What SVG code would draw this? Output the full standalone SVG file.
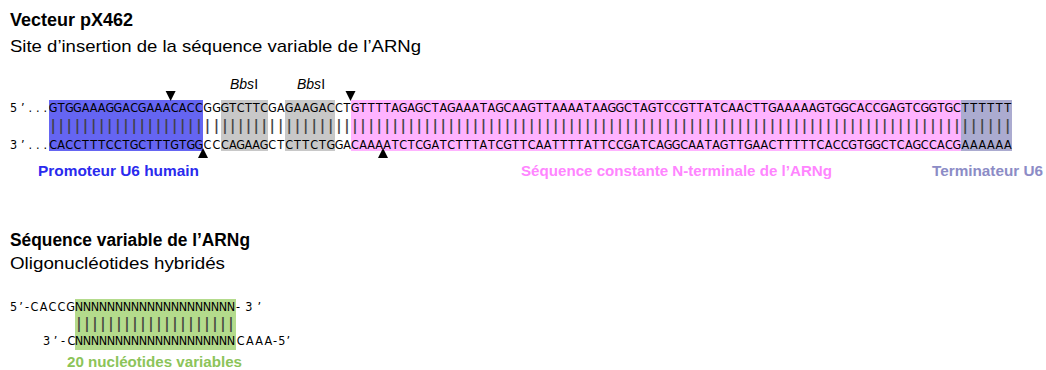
<svg xmlns="http://www.w3.org/2000/svg" width="1046" height="370" viewBox="0 0 1046 370">
<style>
  text { font-family: "Liberation Sans", Arial, sans-serif; fill: #000; }
  .h1 { font-size: 18px; font-weight: bold; }
  .h2 { font-size: 17px; }
  .seq { font-family: "DejaVu Sans Condensed", "DejaVu Sans", "Liberation Sans", sans-serif; font-stretch: condensed; font-size: 12.5px; text-anchor: middle; }
  .pre { font-family: "DejaVu Sans Condensed", "DejaVu Sans", "Liberation Sans", sans-serif; font-stretch: condensed; font-size: 12.5px; }
  .pipe { font-family: "Liberation Sans", sans-serif; font-size: 17px; text-anchor: middle; fill: #404040; stroke: #404040; stroke-width: 0.15; }
  .lab { font-size: 15px; font-weight: bold; }
  .enz { font-size: 14px; }
  .cut { fill: #000; }
</style>
<rect width="1046" height="370" fill="#fff"/>

<g id="titles">
  <text class="h1" x="10" y="26" textLength="123" lengthAdjust="spacingAndGlyphs">Vecteur pX462</text>
  <text class="h2" x="10" y="52" textLength="411" lengthAdjust="spacingAndGlyphs">Site d’insertion de la séquence variable de l’ARNg</text>
  <text class="h1" x="10" y="246" font-size="17" textLength="240" lengthAdjust="spacingAndGlyphs">Séquence variable de l’ARNg</text>
  <text class="h2" x="10" y="269" textLength="215" lengthAdjust="spacingAndGlyphs">Oligonucléotides hybridés</text>
</g>

<g id="regions">
  <rect id="promoteur-box" x="49" y="100" width="154" height="51" fill="#6565F2"/>
  <rect id="bbs1-box" x="221" y="100" width="47" height="51" fill="#C8C8C8"/>
  <rect id="bbs2-box" x="285" y="100" width="50" height="51" fill="#C8C8C8"/>
  <rect id="constante-box" x="351" y="100" width="610" height="51" fill="#FFB3FF"/>
  <rect id="terminateur-box" x="961" y="100" width="51" height="51" fill="#ABABD0"/>
</g>

<g id="vector-sequence">
  <text class="pre" x="10" y="112" textLength="37" lengthAdjust="spacing">5’...</text>
  <text class="pre" x="10" y="149" textLength="37" lengthAdjust="spacing">3’...</text>
  <text class="seq" y="112" x="53.1 61.2 69.3 77.4 85.5 93.6 101.7 109.8 117.9 126 134.1 142.2 150.3 158.4 166.5 174.6 182.7 190.8 198.9 207.5 216.5 224.9 232.8 240.6 248.4 256.2 264.1 272.3 280.8 289.2 297.5 305.8 314.2 322.5 330.8 339 347 355 363 371.1 379.1 387.1 395.1 403.2 411.2 419.2 427.2 435.3 443.3 451.3 459.3 467.4 475.4 483.4 491.4 499.5 507.5 515.5 523.5 531.6 539.6 547.6 555.7 563.7 571.7 579.7 587.8 595.8 603.8 611.8 619.9 627.9 635.9 643.9 652 660 668 676 684.1 692.1 700.1 708.1 716.2 724.2 732.2 740.2 748.3 756.3 764.3 772.4 780.4 788.4 796.4 804.5 812.5 820.5 828.5 836.6 844.6 852.6 860.6 868.7 876.7 884.7 892.7 900.8 908.8 916.8 924.8 932.9 940.9 948.9 956.9 965.3 973.8 982.3 990.8 999.3 1007.8">GTGGAAAGGACGAAACACCGGGTCTTCGAGAAGACCTGTTTTAGAGCTAGAAATAGCAAGTTAAAATAAGGCTAGTCCGTTATCAACTTGAAAAAGTGGCACCGAGTCGGTGCTTTTTT</text>
  <text class="pipe" y="131" x="53.1 61.2 69.3 77.4 85.5 93.6 101.7 109.8 117.9 126 134.1 142.2 150.3 158.4 166.5 174.6 182.7 190.8 198.9 207.5 216.5 224.9 232.8 240.6 248.4 256.2 264.1 272.3 280.8 289.2 297.5 305.8 314.2 322.5 330.8 339 347 355 363 371.1 379.1 387.1 395.1 403.2 411.2 419.2 427.2 435.3 443.3 451.3 459.3 467.4 475.4 483.4 491.4 499.5 507.5 515.5 523.5 531.6 539.6 547.6 555.7 563.7 571.7 579.7 587.8 595.8 603.8 611.8 619.9 627.9 635.9 643.9 652 660 668 676 684.1 692.1 700.1 708.1 716.2 724.2 732.2 740.2 748.3 756.3 764.3 772.4 780.4 788.4 796.4 804.5 812.5 820.5 828.5 836.6 844.6 852.6 860.6 868.7 876.7 884.7 892.7 900.8 908.8 916.8 924.8 932.9 940.9 948.9 956.9 965.3 973.8 982.3 990.8 999.3 1007.8">|||||||||||||||||||||||||||||||||||||||||||||||||||||||||||||||||||||||||||||||||||||||||||||||||||||||||||||||||||||||</text>
  <text class="seq" y="149" x="53.1 61.2 69.3 77.4 85.5 93.6 101.7 109.8 117.9 126 134.1 142.2 150.3 158.4 166.5 174.6 182.7 190.8 198.9 207.5 216.5 224.9 232.8 240.6 248.4 256.2 264.1 272.3 280.8 289.2 297.5 305.8 314.2 322.5 330.8 339 347 355 363 371.1 379.1 387.1 395.1 403.2 411.2 419.2 427.2 435.3 443.3 451.3 459.3 467.4 475.4 483.4 491.4 499.5 507.5 515.5 523.5 531.6 539.6 547.6 555.7 563.7 571.7 579.7 587.8 595.8 603.8 611.8 619.9 627.9 635.9 643.9 652 660 668 676 684.1 692.1 700.1 708.1 716.2 724.2 732.2 740.2 748.3 756.3 764.3 772.4 780.4 788.4 796.4 804.5 812.5 820.5 828.5 836.6 844.6 852.6 860.6 868.7 876.7 884.7 892.7 900.8 908.8 916.8 924.8 932.9 940.9 948.9 956.9 965.3 973.8 982.3 990.8 999.3 1007.8">CACCTTTCCTGCTTTGTGGCCCAGAAGCTCTTCTGGACAAAATCTCGATCTTTATCGTTCAATTTTATTCCGATCAGGCAATAGTTGAACTTTTTCACCGTGGCTCAGCCACGAAAAAA</text>
</g>

<g id="enzymes">
  <text class="enz" x="230" y="89"><tspan font-style="italic">Bbs</tspan>I</text>
  <text class="enz" x="297" y="89"><tspan font-style="italic">Bbs</tspan>I</text>
</g>

<g id="cut-sites">
  <polygon class="cut" points="165.6,91 175.6,91 170.6,101"/>
  <polygon class="cut" points="345.5,91 355.5,91 350.5,101"/>
  <polygon class="cut" points="198,158 208,158 203,148"/>
  <polygon class="cut" points="378,158 388,158 383,148"/>
</g>

<g id="region-labels">
  <text class="lab" x="38" y="176" style="fill:#2A2AEE" textLength="161" lengthAdjust="spacingAndGlyphs">Promoteur U6 humain</text>
  <text class="lab" x="521" y="176" style="fill:#FF85FF" textLength="311" lengthAdjust="spacingAndGlyphs">Séquence constante N-terminale de l’ARNg</text>
  <text class="lab" x="932" y="176" style="fill:#8C8CC6" textLength="111" lengthAdjust="spacingAndGlyphs">Terminateur U6</text>
</g>

<g id="oligos">
  <rect id="variable-box" x="75" y="299" width="161" height="51" fill="#B4DB8C"/>
  <text class="pre" x="10" y="311" textLength="19" lengthAdjust="spacing">5’-</text>
  <text class="seq" y="311" x="34.5 43.5 52.5 61.5 70.5 79 87 95 103 111 119 127 135 143 151 159 167 175 183 191 199 207 215 223 231">CACCGNNNNNNNNNNNNNNNNNNNN</text>
  <text class="pre" x="236" y="311" textLength="25" lengthAdjust="spacing">-3’</text>
  <text class="pipe" y="329" x="79 87 95 103 111 119 127 135 143 151 159 167 175 183 191 199 207 215 223 231">||||||||||||||||||||</text>
  <text class="pre" x="43" y="345" textLength="22" lengthAdjust="spacing">3’-</text>
  <text class="seq" y="345" x="71.5 79 87 95 103 111 119 127 135 143 151 159 167 175 183 191 199 207 215 223 231 240.6 249.9 259.1 268.4">CNNNNNNNNNNNNNNNNNNNNCAAA</text>
  <text class="pre" x="273" y="345" textLength="17" lengthAdjust="spacing">-5’</text>
  <text class="lab" x="67" y="367" style="fill:#8CC459" textLength="175" lengthAdjust="spacingAndGlyphs">20 nucléotides variables</text>
</g>
</svg>
